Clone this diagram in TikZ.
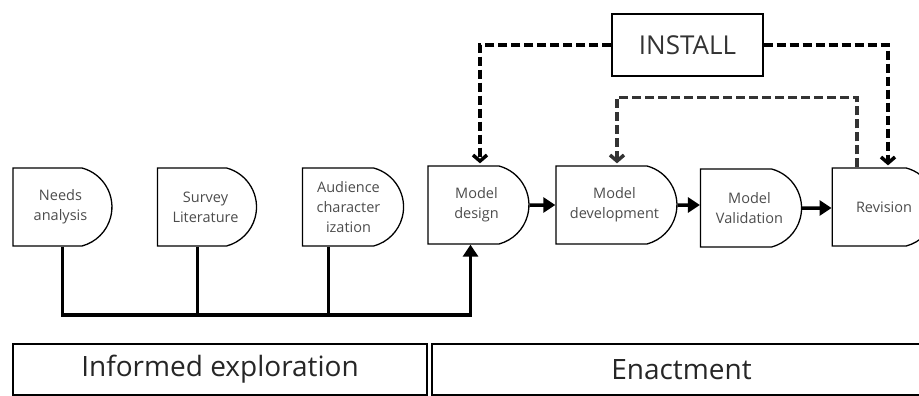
\documentclass[tikz,border=0pt]{standalone}
\usepackage{fontspec}
\setmainfont{Open Sans}
\usetikzlibrary{arrows.meta,positioning,shapes.misc}

\begin{document}
\begin{tikzpicture}[
  x=1pt, y=-1pt,
  stage/.style={draw, line width=1.3pt, rounded rectangle, rounded rectangle left arc=none,
    rounded rectangle arc length=150, minimum width=103pt, minimum height=78pt,
    inner sep=2pt, align=center, text=black!70, font=\fontsize{14.5}{20}\selectfont},
  phase/.style={draw, line width=1.3pt, minimum height=51pt, inner sep=0pt,
    text=black!85, font=\fontsize{28}{30}\selectfont},
  flow/.style={line width=3.5pt, -{Triangle[length=12pt,width=15pt]}},
  bus/.style={line width=3.5pt},
  ctrl/.style={line width=3.5pt, dash pattern=on 9pt off 4pt, shorten >=2pt,
    -{Straight Barb[length=6pt,width=14pt]}}
]
\useasboundingbox (0,0) rectangle (919,396);

% exploration stages
\node[stage] (needs) at (60.5,207) {Needs\\analysis};
\node[stage] (survey) at (205.5,207) {Survey\\Literature};
\node[stage, minimum width=105pt] (audience) at (348.5,207) {Audience\\character\\ization};

% enactment stages
\node[stage, minimum width=105pt] (design) at (476.5,205) {Model\\design};
\node[stage, minimum width=125pt] (develop) at (614.5,205) {Model\\development};
\node[stage, minimum width=105pt] (valid) at (749.5,208) {Model\\Validation};
\node[stage, minimum width=108pt] (revision) at (884,207) {Revision};

\node[draw, line width=1.3pt, minimum width=151pt, minimum height=62pt, text=black!80,
  font=\fontsize{26}{28}\selectfont] (install) at (687.5,45) {INSTALL};

% phases
\node[phase, minimum width=414pt] (explore) at (220,369.5) {Informed exploration};
\node[phase, minimum width=493pt] (enact) at (678.5,369.5) {\hspace*{6pt}Enactment};

% main flow
\draw[flow] (design) -- (develop);
\draw[flow] (develop) -- (develop -| valid.west);
\draw[flow] (valid) -- (valid -| revision.west);

% feeding bus
\coordinate (busline) at (0,315);
\coordinate (s1) at ([xshift=2pt]needs.south);
\coordinate (s2) at ([xshift=-8pt]survey.south);
\coordinate (s3) at ([xshift=-20pt]audience.south);
\draw[bus] (s2) -- (s2 |- busline);
\draw[bus] (s3) -- (s3 |- busline);
\draw[flow] (s1) -- (s1 |- busline) -| ([xshift=-6pt]design.south);

% install feedback
\draw[ctrl] (install.west) -| ([xshift=3.5pt]design.north);
\draw[ctrl] (install.east) -| ([xshift=4pt]revision.north);
\draw[ctrl, black!80] ([xshift=-27pt]revision.north) -- ++(0,-70) -| ([xshift=2.5pt]develop.north);
\end{tikzpicture}
\end{document}
